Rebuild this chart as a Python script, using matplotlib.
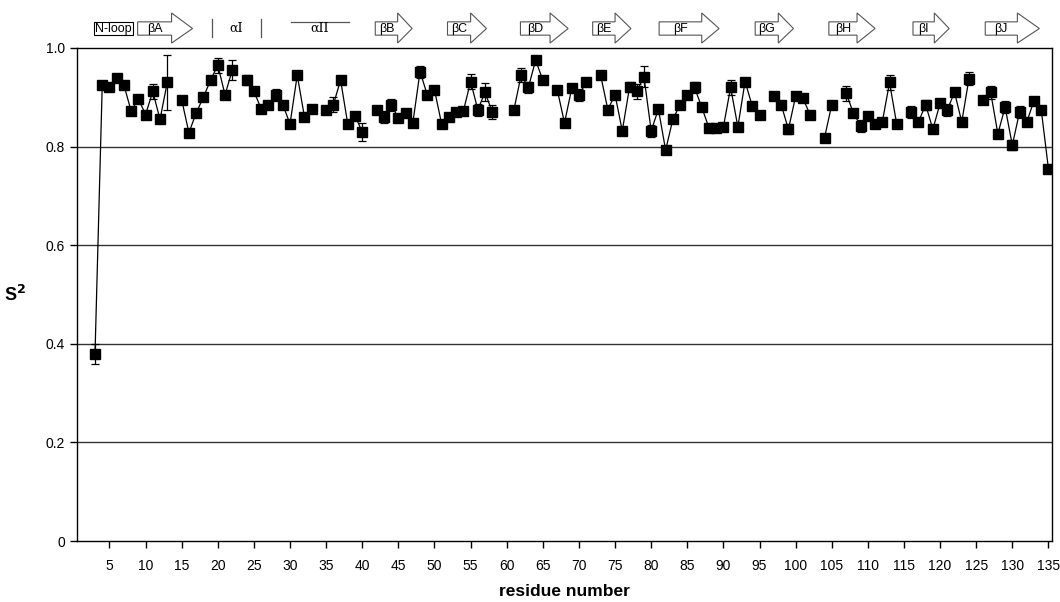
import numpy as np
import matplotlib
matplotlib.use("Agg")
import matplotlib.pyplot as plt
from matplotlib.patches import Polygon, Rectangle
import matplotlib.transforms as mtransforms

plt.rcParams['font.family'] = ['Liberation Sans', 'DejaVu Sans']

nan = np.nan
residues = list(range(3, 136))
s2 = [0.38, 0.925, 0.92, 0.94, 0.925, 0.872, 0.897, 0.865, 0.912, 0.855,
      0.93, nan, 0.895, 0.828, 0.868, 0.9, 0.935, 0.965, 0.905, 0.955,
      nan, 0.935, 0.912, 0.877, 0.885, 0.905, 0.885, 0.846, 0.945, 0.86,
      0.876, nan, 0.875, 0.885, 0.935, 0.845, 0.862, 0.83, nan, 0.875,
      0.86, 0.885, 0.858, 0.868, 0.848, 0.952, 0.905, 0.915, 0.845, 0.86,
      0.87, 0.872, 0.932, 0.875, 0.91, 0.87, nan, nan, 0.875, 0.945,
      0.92, 0.975, 0.935, nan, 0.915, 0.848, 0.918, 0.905, 0.93, nan,
      0.945, 0.875, 0.905, 0.832, 0.92, 0.912, 0.942, 0.832, 0.876, 0.793,
      0.855, 0.885, 0.905, 0.92, 0.88, 0.838, 0.838, 0.84, 0.92, 0.84,
      0.932, 0.882, 0.865, nan, 0.902, 0.885, 0.835, 0.902, 0.898, 0.865,
      nan, 0.818, 0.885, nan, 0.908, 0.868, 0.842, 0.862, 0.845, 0.85,
      0.93, 0.845, nan, 0.87, 0.85, 0.885, 0.835, 0.888, 0.875, 0.91,
      0.85, 0.938, nan, 0.895, 0.91, 0.826, 0.88, 0.803, 0.87, 0.85,
      0.893, 0.875, 0.755]
err_big = {3: 0.02, 11: 0.015, 13: 0.055, 20: 0.015, 22: 0.02, 24: 0.01,
           28: 0.012, 36: 0.015, 40: 0.018, 43: 0.012, 44: 0.012, 48: 0.012,
           55: 0.015, 56: 0.012, 57: 0.018, 58: 0.015, 62: 0.015, 63: 0.012,
           64: 0.008, 70: 0.012, 77: 0.01, 78: 0.015, 79: 0.022, 80: 0.012,
           86: 0.012, 91: 0.015, 99: 0.01, 107: 0.015, 109: 0.012, 113: 0.015,
           116: 0.012, 118: 0.01, 121: 0.012, 124: 0.013, 127: 0.013,
           129: 0.012, 130: 0.01, 131: 0.012}
err = [err_big.get(r, 0.005) for r in residues]

# secondary structure: (label, start, body_end, tip)
strands = [("βA", 8.9, 13.6, 16.5), ("βB", 41.8, 44.9, 46.9),
           ("βC", 51.8, 55.0, 57.2), ("βD", 61.9, 66.0, 68.5),
           ("βE", 71.9, 75.0, 77.2), ("βF", 81.1, 87.0, 89.4),
           ("βG", 94.4, 97.6, 99.7), ("βH", 104.6, 108.5, 111.0),
           ("βI", 116.25, 119.2, 121.25), ("βJ", 126.25, 130.7, 133.75)]
nloop = ("N-loop", 2.9, 8.2)
helix1 = ("αI", 19.2, 26.0)
helix2 = ("αII", 30.1, 38.2)

fig = plt.figure(figsize=(10.6, 6.02), dpi=100)
ax = fig.add_axes([0.0726, 0.1013, 0.9199, 0.8190])

r = np.array(residues, dtype=float)
v = np.array(s2, dtype=float)
e = np.array(err, dtype=float)
ax.plot(r, v, color='black', lw=0.9, zorder=3)
mask = ~np.isnan(v)
ax.errorbar(r[mask], v[mask], yerr=e[mask], fmt='s', color='black',
            ms=6.5, ecolor='black', elinewidth=0.9, capsize=3, capthick=0.9,
            zorder=4)

ax.set_xlim(0.5, 135.5)
ax.set_ylim(0, 1.0)
ax.set_xticks(np.arange(5, 136, 5))
ax.set_yticks([0, 0.2, 0.4, 0.6, 0.8, 1.0])
ax.set_yticklabels(['0', '0.2', '0.4', '0.6', '0.8', '1.0'])
for y in [0.2, 0.4, 0.6, 0.8]:
    ax.axhline(y, color='#333333', lw=1.0, zorder=1)
ax.tick_params(axis='both', direction='out', length=5, width=1.0,
               labelsize=10, colors='black')
ax.tick_params(axis='x', pad=8)
for sp in ax.spines.values():
    sp.set_linewidth(1.0)
    sp.set_color('black')

ax.set_xlabel('residue number', fontsize=12.5, fontweight='bold', labelpad=8)
ax.set_ylabel('S$^\\mathbf{2}$', fontsize=13, fontweight='bold', rotation=0,
              labelpad=22, va='center')

trans = mtransforms.blended_transform_factory(ax.transData, ax.transAxes)
yb, yt = 1.026, 1.053
yhb, yht = 1.010, 1.071
ym = (yb + yt) / 2
lc = '#555555'
for lab, x0, x1, x2 in strands:
    poly = Polygon([(x0, yb), (x1, yb), (x1, yhb), (x2, ym), (x1, yht),
                    (x1, yt), (x0, yt)], closed=True, fill=True,
                   facecolor='white', edgecolor=lc, lw=0.8,
                   transform=trans, clip_on=False)
    ax.add_patch(poly)
    ax.text((x0 + x1) / 2, ym, lab, transform=trans, ha='center',
            va='center', fontsize=9, clip_on=False)

lab, x0, x1 = nloop
ax.add_patch(Rectangle((x0, yb), x1 - x0, yt - yb, fill=False, edgecolor='black',
                       lw=0.8, transform=trans, clip_on=False))
ax.text((x0 + x1) / 2, ym, lab, transform=trans, ha='center', va='center',
        fontsize=9, clip_on=False)

lab, x0, x1 = helix1
for xx in (x0, x1):
    ax.plot([xx, xx], [1.022, 1.058], color=lc, lw=0.9, transform=trans,
            clip_on=False)
ax.text((x0 + x1) / 2, ym, lab, transform=trans, ha='center', va='center',
        fontsize=9, family=['DejaVu Serif'], clip_on=False)

lab, x0, x1 = helix2
ax.plot([x0, x1], [yt, yt], color=lc, lw=0.9, transform=trans, clip_on=False)
ax.text((x0 + x1) / 2, ym, lab, transform=trans, ha='center', va='center',
        fontsize=9, family=['DejaVu Serif'], clip_on=False)

fig.savefig('out.png', dpi=100)
